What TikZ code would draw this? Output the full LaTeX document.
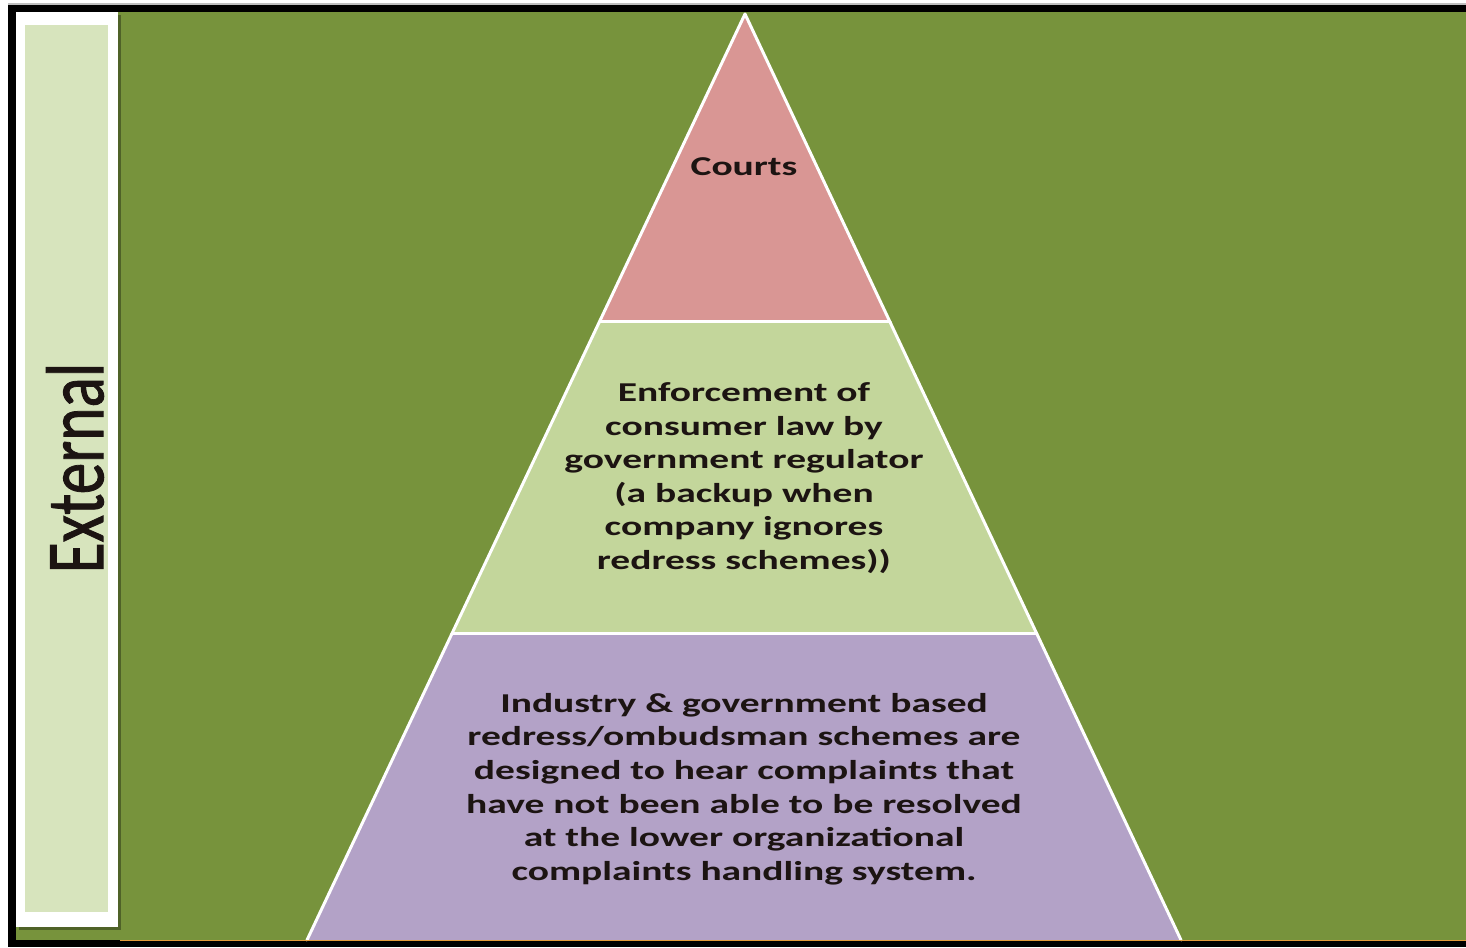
\documentclass[tikz,border=0pt]{standalone}
\usepackage{fontspec}
\setmainfont{Carlito}
\newfontfamily\widefont{Carlito}[FakeStretch=1.45]
\newfontfamily\sidefont{Carlito}[FakeBold=1.2]
\usetikzlibrary{calc}
\definecolor{bggreen}{HTML}{77933C}
\definecolor{panelgreen}{HTML}{D7E4BD}
\definecolor{boxshadow}{HTML}{4F6228}
\definecolor{courtsred}{HTML}{D99694}
\definecolor{regulgreen}{HTML}{C3D69B}
\definecolor{schemepurple}{HTML}{B3A2C7}
\definecolor{edgeorange}{HTML}{E59B3A}
\definecolor{inkdark}{HTML}{1C1412}

\begin{document}
\begin{tikzpicture}[x=0.02cm,y=-0.02cm,
   tier edge/.style={draw=white,line width=1.7pt,line cap=round,line join=round},
   tier text/.style={align=center,text=inkdark,
      font=\widefont\bfseries\fontsize{15.5}{19.1}\selectfont}]
\useasboundingbox (0,0) rectangle (1466,947);
\fill[white] (0,0) rectangle (1466,947);
\draw[gray!50,line width=0.6pt] (8,4) -- (1466,4);
\fill[black] (8,5) rectangle (1466,947);
\fill[bggreen] (16,12) rectangle (1466,940);
\fill[boxshadow] (19,15) rectangle (121,930);
\fill[white] (16,12) rectangle (118,927);
\fill[panelgreen] (25,25) rectangle (108,912);
\node[rotate=90,text=inkdark,font=\sidefont\fontsize{36}{40}\selectfont] (external) at (75,468)
   {\scalebox{1}[1.3]{External}};
\coordinate (apex) at (745,14);
\coordinate (bl) at (307,940);
\coordinate (br) at (1181,940);
\coordinate (l1) at ($(apex)!0.3326!(bl)$);
\coordinate (r1) at ($(apex)!0.3326!(br)$);
\coordinate (l2) at ($(apex)!0.6695!(bl)$);
\coordinate (r2) at ($(apex)!0.6695!(br)$);
\fill[courtsred] (apex) -- (r1) -- (l1) -- cycle;
\fill[regulgreen] (l1) -- (r1) -- (r2) -- (l2) -- cycle;
\fill[schemepurple] (l2) -- (r2) -- (br) -- (bl) -- cycle;
\draw[tier edge] (bl) -- (apex) -- (br);
\draw[tier edge] (l1) -- (r1);
\draw[tier edge] (l2) -- (r2);
\draw[edgeorange,line width=0.5pt] (120,940.5) -- (1466,940.5);
\node[tier text] (courts) at (744,167) {Courts};
\node[tier text] (regulator) at (744,478) {Enforcement of\\consumer law by\\government regulator\\(a backup when\\company ignores\\redress schemes))};
\node[tier text] (schemes) at (744,789) {Industry \& government based\\redress/ombudsman schemes are\\designed to hear complaints that\\have not been able to be resolved\\at the lower organizational\\complaints handling system.};
\end{tikzpicture}
\end{document}
